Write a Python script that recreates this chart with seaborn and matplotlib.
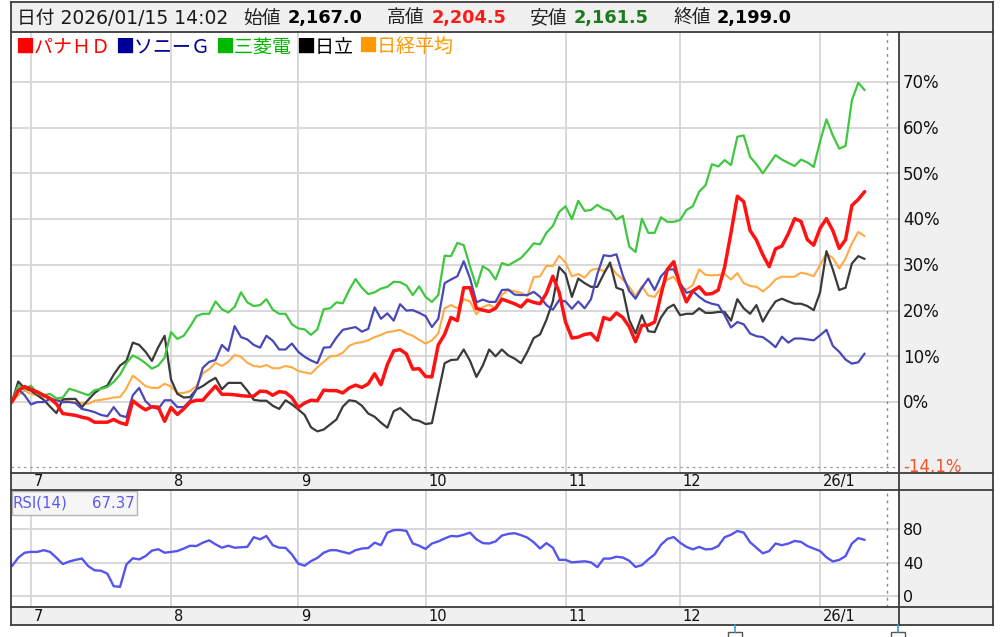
import numpy as np
import pandas as pd
import matplotlib
matplotlib.use("Agg")
import matplotlib.pyplot as plt
import matplotlib.transforms as mtransforms
from matplotlib.patches import Rectangle
import seaborn as sns

# ---------------- data (percent change since start, daily) ----------------
panasonic = [0, 2.5, 3.4, 2.8, 2.2, 1.5, 0.8, -0.4, -2.5, -2.7,
             -2.9, -3.3, -3.6, -4.4, -4.4, -4.4, -3.8, -4.5, -4.9, 0.3,
             -0.8, -1.7, -1.0, -1.1, -4.2, -1.2, -2.7, -1.5, 0.0, 0.4,
             0.4, 2.0, 3.5, 1.7, 1.7, 1.6, 1.4, 1.3, 1.3, 2.4,
             2.3, 1.5, 2.3, 2.1, 1.0, -1.2, -0.2, 0.4, 0.3, 2.6,
             2.5, 2.5, 2.0, 3.1, 3.7, 3.2, 4.0, 6.2, 3.8, 8.2,
             11.2, 11.5, 10.5, 7.2, 7.3, 5.6, 5.5, 12.5, 14.8, 18.5,
             17.8, 25.0, 25.0, 20.5, 20.1, 19.8, 20.5, 22.5, 22.0, 21.5,
             20.8, 22.3, 21.8, 21.5, 23.8, 27.5, 24.0, 17.5, 14.0, 14.2,
             14.8, 15.0, 13.5, 18.5, 18.0, 19.5, 18.5, 16.5, 13.2, 16.8,
             16.8, 17.5, 23.5, 29.0, 30.7, 25.5, 21.9, 24.3, 25.2, 23.6,
             23.7, 24.5, 29.5, 37.0, 45.0, 43.8, 37.5, 35.4, 32.2, 29.6,
             33.5, 34.1, 36.8, 40.1, 39.5, 35.5, 34.3, 38.0, 40.1, 37.5,
             33.6, 35.5, 43.0, 44.3, 46.0]
sony = [0, 2.8, 1.5, -0.5, 0.0, 0.0, 0.7, 0.4, 0.0, 0.0,
        -0.2, -1.5, -1.8, -2.2, -2.8, -3.1, -1.1, -2.9, -3.3, 1.5,
        3.1, 0.2, -1.1, -1.5, 0.4, 0.4, -1.1, -1.1, 0.3, 2.8,
        7.5, 8.8, 9.2, 12.5, 11.2, 16.6, 14.2, 13.7, 12.5, 11.9,
        14.5, 13.4, 11.5, 11.5, 12.8, 11.0, 9.9, 9.1, 8.5, 11.9,
        12.0, 14.1, 15.8, 16.1, 16.4, 15.4, 16.0, 20.7, 18.2, 19.4,
        17.8, 21.4, 20.0, 20.1, 19.5, 18.8, 16.4, 18.2, 26.0, 26.8,
        27.5, 30.8, 27.0, 21.8, 22.4, 21.9, 21.9, 24.5, 24.6, 23.5,
        23.4, 23.4, 24.1, 23.0, 21.2, 20.2, 22.3, 22.0, 20.4, 22.0,
        20.5, 22.5, 28.0, 32.1, 31.9, 32.3, 27.7, 24.3, 22.6, 25.0,
        27.0, 24.5, 27.5, 29.0, 29.0, 26.0, 23.9, 24.3, 23.0, 22.0,
        21.5, 21.2, 19.0, 16.3, 17.5, 17.0, 15.0, 14.4, 14.2, 13.2,
        12.0, 14.3, 13.0, 13.9, 13.9, 13.7, 13.5, 14.6, 15.8, 12.3,
        11.0, 9.3, 8.4, 8.7, 10.6]
mitsubishi = [0, 3.6, 2.8, 3.6, 1.8, 1.5, 1.8, 0.8, 1.0, 2.9,
              2.5, 2.0, 1.5, 2.6, 2.9, 3.3, 4.4, 6.0, 8.5, 10.2,
              9.5, 8.5, 7.3, 8.0, 9.7, 15.3, 13.8, 14.5, 16.5, 18.8,
              19.3, 19.3, 22.0, 20.3, 19.6, 20.8, 24.0, 21.8, 21.0, 21.2,
              22.5, 20.2, 19.3, 19.3, 17.0, 16.1, 15.9, 14.7, 15.9, 20.3,
              20.5, 21.8, 21.6, 24.5, 26.9, 25.0, 23.6, 24.0, 24.8, 25.2,
              26.3, 26.2, 25.5, 23.4, 25.3, 23.0, 21.9, 23.4, 32.0, 31.9,
              34.8, 34.3, 29.6, 25.2, 29.7, 28.8, 26.8, 30.4, 29.9, 30.7,
              31.5, 33.0, 34.7, 34.5, 37.0, 38.5, 41.6, 42.8, 40.0, 44.0,
              41.8, 42.0, 43.1, 42.2, 41.8, 39.9, 40.7, 34.0, 32.8, 40.1,
              37.0, 37.0, 40.4, 39.4, 39.4, 39.8, 42.0, 42.8, 46.0, 47.4,
              52.0, 51.5, 52.9, 51.8, 58.0, 58.3, 53.6, 52.0, 50.0, 52.0,
              54.0, 53.0, 52.3, 51.6, 53.0, 52.4, 51.4, 57.0, 61.8, 58.3,
              55.4, 56.0, 66.0, 69.8, 68.2]
hitachi = [0, 4.5, 3.0, 2.5, 1.5, 0.5, -1.0, -2.4, 0.6, 0.7,
           0.7, -1.1, 0.5, 2.0, 3.0, 3.6, 6.0, 8.0, 9.0, 13.0,
           12.5, 11.0, 9.0, 12.0, 14.5, 5.0, 1.8, 1.0, 1.1, 2.8,
           3.5, 4.5, 5.3, 2.8, 4.2, 4.2, 4.2, 2.5, 0.5, 0.3,
           0.3, -0.8, -1.5, 0.4, -0.5, -1.6, -2.8, -5.5, -6.4, -6.0,
           -4.9, -3.8, -1.0, 0.4, 0.2, -0.8, -2.5, -3.2, -4.5, -5.6,
           -2.0, -1.3, -2.5, -3.8, -4.1, -4.8, -4.6, 2.0, 8.5, 9.2,
           9.3, 11.5, 9.0, 5.5, 8.0, 11.5, 10.0, 11.5, 10.2, 9.5,
           8.5, 11.0, 14.0, 14.8, 18.0, 22.0, 29.5, 28.0, 23.0, 27.0,
           26.0, 25.2, 25.2, 28.0, 30.5, 25.0, 24.5, 18.0, 15.0, 19.0,
           15.5, 15.3, 18.5, 20.5, 21.3, 19.0, 19.3, 19.3, 20.5, 19.5,
           19.5, 19.7, 19.7, 17.8, 22.5, 20.5, 19.3, 21.2, 17.6, 20.0,
           22.0, 22.6, 22.0, 21.5, 21.5, 21.0, 20.1, 24.0, 33.0, 29.0,
           24.5, 25.0, 30.3, 31.9, 31.3]
nikkei = [0, 1.5, 2.5, 1.8, 1.5, 1.1, 0.8, 0.5, 0.4, 0.2,
          0.0, -0.2, -0.4, 0.3, 0.5, 0.7, 1.0, 1.1, 3.0, 5.8,
          4.7, 3.5, 3.1, 3.1, 4.0, 3.4, 2.0, 2.0, 2.4, 3.5,
          6.3, 7.2, 8.6, 7.9, 8.8, 10.3, 9.9, 8.6, 7.9, 7.7,
          8.1, 7.4, 7.4, 7.9, 7.6, 6.8, 6.5, 6.2, 7.6, 8.8,
          10.0, 10.1, 10.8, 12.3, 12.9, 13.1, 13.5, 14.2, 14.7, 15.3,
          15.5, 15.8, 15.0, 14.5, 13.6, 12.8, 13.5, 15.0, 20.5, 21.2,
          20.5, 22.5, 22.0, 19.2, 20.8, 21.3, 20.5, 23.5, 24.5, 24.2,
          23.9, 23.2, 27.3, 27.5, 29.8, 29.7, 32.0, 30.5, 27.5, 28.0,
          27.2, 28.8, 29.2, 28.6, 29.9, 28.0, 26.8, 25.2, 23.2, 25.3,
          23.3, 23.0, 25.0, 26.8, 27.4, 25.3, 24.6, 25.6, 29.0, 27.8,
          27.7, 27.8, 28.0, 26.8, 28.2, 26.0, 25.4, 25.2, 24.2, 25.3,
          26.8, 27.4, 27.4, 27.4, 28.3, 28.0, 27.5, 30.0, 32.5, 31.5,
          29.2, 31.4, 34.7, 37.2, 36.3]
rsi14 = [36, 46, 52, 53, 53, 55, 53, 46, 38.5, 41.5,
         43.5, 45, 36, 31, 30.5, 27, 12, 11.3, 38, 45.4,
         44, 48, 54.5, 56.2, 52, 53, 54, 57, 60.3, 60,
         64, 66.8, 62, 58, 60.4, 58, 58.5, 59, 70.5, 68,
         72, 61, 58, 57.9, 50, 39, 36.5, 42, 45.8, 52,
         55, 55, 53, 51, 55, 57, 57.6, 64, 61, 76,
         79, 79.2, 78, 63, 60.4, 56.5, 63, 65.5, 69, 72,
         71.5, 73.5, 76, 68, 63.5, 63, 65.5, 72.5, 74.5, 75.3,
         73, 70, 64.5, 57, 63.5, 58, 43.5, 43.5, 40.5, 41.2,
         41.8, 40.5, 34.8, 45, 45, 47.2, 46.3, 42.5, 35, 37.2,
         44, 50, 61.5, 68.5, 70.7, 64, 59, 56, 59, 56,
         56.5, 60, 70.5, 73.5, 78, 76, 64.5, 58, 51.3, 54,
         63, 61, 62.9, 66, 65, 60, 57, 54, 46.5, 41.6,
         43.4, 48, 63, 69.5, 67.37]
rsi_last_label = "67.37"

month_tick_pos = [3, 25, 45, 65, 87, 105, 127]
month_tick_labels = ["7", "8", "9", "10", "11", "12", "26/1"]
pct_ticks = [0, 10, 20, 30, 40, 50, 60, 70]
rsi_ticks = [0, 40, 80]
min_pct = -14.1
series_names = ["パナＨＤ", "ソニーＧ", "三菱電", "日立", "日経平均"]
header_items = [("日付 2026/01/15 14:02", None), ("始値", "2,167.0"),
                ("高値", "2,204.5"), ("安値", "2,161.5"), ("終値", "2,199.0")]

# ---------------- styling ----------------
sns.set_theme(style="white")
plt.rcParams['font.family'] = ['DejaVu Sans', 'Noto Sans CJK JP']
LAT = ['DejaVu Sans', 'Noto Sans CJK JP']
CJK = ['Noto Sans CJK JP', 'DejaVu Sans']

W, H = 1001, 637
fig = plt.figure(figsize=(W / 100, H / 100), dpi=100)
fig.patch.set_facecolor('white')


def px_axes(x0, y0, x1, y1):
    return fig.add_axes([x0 / W, 1 - y1 / H, (x1 - x0) / W, (y1 - y0) / H])


PANEL = '#f0f0f0'
GRID = '#d6d6d6'
EDGE = '#3c3c3c'

# background panels
bg = px_axes(0, 0, W, H)
bg.set_xlim(0, W); bg.set_ylim(H, 0); bg.axis('off')
for (x0, y0, x1, y1) in [(11, 2, 993, 32), (899, 32, 993, 625),
                         (11, 473, 993, 490), (11, 607, 993, 625)]:
    bg.add_patch(Rectangle((x0, y0), x1 - x0, y1 - y0, facecolor=PANEL,
                           edgecolor='none'))

days = np.arange(len(panasonic))
XL = (-0.14, 139.4)

# ---------------- main chart ----------------
ax = px_axes(11, 32, 899, 473)
ax.set_facecolor('white')
ax.set_xlim(*XL)
ax.set_ylim(-15.5, 80.9)
ax.set_xticks(month_tick_pos)
ax.set_yticks(pct_ticks)
ax.grid(True, color=GRID, lw=1.3)
ax.tick_params(labelleft=False, labelbottom=False, length=0)
for s in ax.spines.values():
    s.set_visible(False)
ax.axvline(137.5, color='#8a8a8a', lw=1.0, ls=(0, (2, 3)))
ax.axhline(min_pct, color='#9a9a9a', lw=0.9, ls=(0, (2, 3)))

line_specs = [
    (nikkei, '#ffaa44', 1.5),
    (hitachi, '#3a3a3a', 1.6),
    (sony, '#4848b8', 1.6),
    (mitsubishi, '#3fc83f', 1.6),
    (panasonic, '#ff1212', 2.5),
]
for vals, col, lw in line_specs:
    sns.lineplot(x=days, y=vals, ax=ax, color=col, lw=lw, legend=False)
ax.set_xlabel(''); ax.set_ylabel('')

btr = mtransforms.blended_transform_factory(ax.transAxes, ax.transData)
for v in pct_ticks:
    ax.text(1.0045, v - 0.3, f"{v}%", transform=btr, ha='left', va='center',
            fontsize=12, color='#111111', family=LAT, clip_on=False)
ax.text(1.0045, min_pct, f"{min_pct}%", transform=btr, ha='left', va='center',
        fontsize=12, color='#f0552a', family=LAT, clip_on=False)
xtr = mtransforms.blended_transform_factory(ax.transData, ax.transAxes)
for p, lab in zip(month_tick_pos, month_tick_labels):
    ax.text(p + 0.4, -0.0195, lab, transform=xtr, ha='left', va='center',
            fontsize=10.5, color='#111111', family=LAT, clip_on=False)

# ---------------- RSI ----------------
rax = px_axes(11, 490, 899, 607)
rax.set_facecolor('white')
rax.set_xlim(*XL)
rax.set_ylim(-12.8, 126.9)
rax.set_xticks(month_tick_pos)
rax.set_yticks(rsi_ticks)
rax.grid(True, color=GRID, lw=1.3)
rax.tick_params(labelleft=False, labelbottom=False, length=0)
for s in rax.spines.values():
    s.set_visible(False)
rax.axvline(137.5, color='#8a8a8a', lw=1.0, ls=(0, (2, 3)))
sns.lineplot(x=days, y=rsi14, ax=rax, color='#5555ee', lw=1.7, legend=False)
rax.set_xlabel(''); rax.set_ylabel('')
rbtr = mtransforms.blended_transform_factory(rax.transAxes, rax.transData)
for v in rsi_ticks:
    rax.text(1.0045, v - 1.5, f"{v}", transform=rbtr, ha='left', va='center',
             fontsize=11.5, color='#111111', family=LAT, clip_on=False)
rxtr = mtransforms.blended_transform_factory(rax.transData, rax.transAxes)
for p, lab in zip(month_tick_pos, month_tick_labels):
    rax.text(p + 0.4, -0.077, lab, transform=rxtr, ha='left', va='center',
             fontsize=10.5, color='#111111', family=LAT, clip_on=False)

# ---------------- overlay: borders & header ----------------
top = px_axes(0, 0, W, H)
top.set_xlim(0, W); top.set_ylim(H, 0); top.axis('off')
top.patch.set_alpha(0)
for (xs, ys) in [([11, 993], [2, 2]), ([11, 993], [32, 32]),
                 ([11, 993], [473, 473]), ([11, 993], [490, 490]),
                 ([11, 993], [607, 607]), ([11, 993], [625, 625]),
                 ([11, 11], [2, 625]), ([993, 993], [2, 625]),
                 ([899, 899], [32, 625])]:
    top.plot(xs, ys, color=EDGE, lw=1.3, solid_capstyle='projecting')

# small scroll handles at the bottom
for cx in [735, 898]:
    top.plot([cx, cx], [625, 632], color='#2aa7e0', lw=1.2)
    top.add_patch(Rectangle((cx - 7, 632), 14, 8, facecolor='white',
                            edgecolor='#555555', lw=1.0))

# RSI label box
top.add_patch(Rectangle((11.5, 491), 125.5, 23.5, facecolor='#f6f6f6',
                        edgecolor='#b4b4b4', lw=1.0))
top.text(13, 503, "RSI(14)", fontsize=10.8, color='#5a5af0', family=LAT,
         ha='left', va='center')
top.text(92, 503, rsi_last_label, fontsize=10.8, color='#5a5af0', family=LAT,
         ha='left', va='center')

# header
hy = 18
top.text(17, hy, header_items[0][0], fontsize=13.5, color='#1a1a1a',
         family=LAT, ha='left', va='center')
label_x = [243, 387, 530, 673]
value_x = [288, 432, 574, 717]
value_col = ['#000000', '#ff1a1a', '#1e7a1e', '#000000']
for (lab, val), lx, vx, vc in zip(header_items[1:], label_x, value_x, value_col):
    top.text(lx, hy, lab, fontsize=13.5, color='#222222', family=CJK,
             ha='left', va='center')
    top.text(vx, hy, val, fontsize=12.8, color=vc, family=LAT,
             fontweight='bold', ha='left', va='center')

# legend row
leg_x = [15, 115, 215, 296, 358]
leg_col = ['#ff0000', '#000099', '#00b800', '#000000', '#ff9900']
for name, lx, lc in zip(series_names, leg_x, leg_col):
    top.text(lx, 47, "■" + name, fontsize=13.7, color=lc, family=CJK,
             ha='left', va='center')

fig.savefig("out.png", dpi=100, facecolor='white')
